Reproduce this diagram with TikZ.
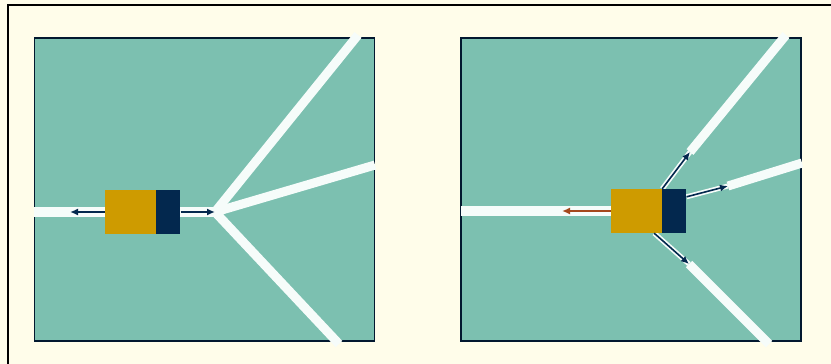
\documentclass[tikz,border=0pt]{standalone}
\usepackage{tikz}
\usetikzlibrary{arrows.meta,positioning,calc}
\definecolor{cream}{RGB}{255,253,234}
\definecolor{pond}{RGB}{124,192,176}
\definecolor{roadwhite}{RGB}{246,252,250}
\definecolor{gold}{RGB}{206,155,0}
\definecolor{navy}{RGB}{3,40,78}
\definecolor{rust}{RGB}{164,72,28}

\begin{document}
\begin{tikzpicture}[x=1pt,y=-1pt,>={Latex[length=8pt,width=7pt]},
  panel/.style={draw=navy!60!black,fill=pond,line width=1.3pt,minimum width=340pt,minimum height=303pt,inner sep=0pt},
  road/.style={line width=9pt,color=roadwhite},
  trail/.style={line width=5pt,color=roadwhite},
  body/.style={fill=gold,minimum width=51pt,minimum height=44pt,inner sep=0pt},
  head/.style={fill=navy,minimum width=24pt,minimum height=44pt,inner sep=0pt},
  pointer/.style={->,line width=1.6pt,color=navy}]
  \fill[cream] (0,0) rectangle (831,364);
  \useasboundingbox (0,0) rectangle (831,364);
  \draw[line width=2pt] (8,364) -- (8,5) -- (831,5);

  \node (pondL) [panel] at (204.5,189.5) {};
  \coordinate (inL) at (34,212);
  \coordinate (forkL) at (215,212);
  \coordinate (upL) at (358,35);
  \coordinate (midL) at (375,165);
  \coordinate (lowL) at (339,344);
  \coordinate (tipL) at (70,212);
  \draw[road,line width=10pt] (inL) -- (forkL);
  \draw[road,line join=miter] (upL) -- (forkL) -- (lowL);
  \draw[road] (forkL) -- (midL);
  \node (bodyL) [body] at (130.5,212) {};
  \node (headL) [head,right=0pt of bodyL] {};
  \draw[pointer] (bodyL.west) -- (tipL);
  \draw[pointer] (headL.east) -- (forkL);

  \node (pondR) [panel] at (631,189.5) {};
  \coordinate (inR) at (461,211);
  \coordinate (tipR) at (562,211);
  \coordinate (upR) at (690,152);
  \coordinate (upEndR) at (786,35);
  \coordinate (midR) at (728,186);
  \coordinate (midEndR) at (802,163);
  \coordinate (lowR) at (689,264);
  \coordinate (lowEndR) at (769,344);
  \node (bodyR) [body] at (636.5,211) {};
  \node (headR) [head,right=0pt of bodyR] {};
  \draw[road,line width=10pt] (inR) -- (bodyR.west);
  \draw[road] (upR) -- (upEndR);
  \draw[road] (midR) -- (midEndR);
  \draw[road] (lowR) -- (lowEndR);
  \draw[trail] (bodyR.north east) -- (upR);
  \draw[trail] ($(headR.north east)+(0,8)$) -- (midR);
  \draw[trail] ($(bodyR.south east)+(-8,0)$) -- (lowR);
  \node (bodyR) [body] at (636.5,211) {};
  \node (headR) [head,right=0pt of bodyR] {};
  \draw[pointer,color=rust] (bodyR.west) -- (tipR);
  \draw[pointer] (bodyR.north east) -- (upR);
  \draw[pointer] ($(headR.north east)+(0,8)$) -- (midR);
  \draw[pointer] ($(bodyR.south east)+(-8,0)$) -- (lowR);
\end{tikzpicture}
\end{document}
